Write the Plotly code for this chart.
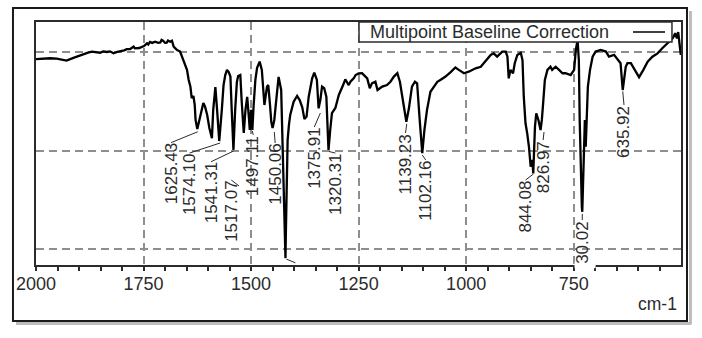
import plotly.graph_objects as go

# ---------------- data ----------------
wavenumber = [
    2000, 1984, 1967, 1952, 1940, 1929, 1913, 1902, 1890, 1879,
    1870, 1860, 1851, 1844, 1835, 1828, 1820, 1811, 1804, 1795,
    1789, 1781, 1773, 1770, 1760, 1754, 1749, 1742, 1739, 1735,
    1730, 1723, 1716, 1711, 1708, 1704, 1700, 1696, 1693, 1688,
    1684, 1680, 1672, 1665, 1661, 1657, 1653, 1649, 1645, 1641,
    1638, 1634, 1631, 1629, 1625, 1618, 1614, 1611, 1607, 1602,
    1597, 1591, 1588, 1583, 1579, 1576, 1574, 1568, 1564, 1560,
    1556, 1552, 1548, 1545, 1541, 1537, 1533, 1530, 1525, 1522,
    1517, 1513, 1509, 1505, 1503, 1500, 1497, 1494, 1490, 1486,
    1480, 1475, 1472, 1469, 1463, 1460, 1456, 1453, 1450, 1446,
    1441, 1436, 1430, 1427, 1424, 1422, 1420, 1419, 1417, 1415,
    1412, 1409, 1401, 1393, 1387, 1381, 1376, 1371, 1366, 1358,
    1353, 1347, 1343, 1339, 1335, 1330, 1325, 1320, 1316, 1312,
    1304, 1296, 1286, 1281, 1273, 1269, 1261, 1257, 1250, 1242,
    1230, 1224, 1219, 1211, 1206, 1195, 1184, 1176, 1168, 1160,
    1154, 1149, 1143, 1139, 1133, 1126, 1119, 1114, 1108, 1102,
    1097, 1091, 1083, 1075, 1067, 1060, 1048, 1036, 1025, 1017,
    1005, 994, 978, 966, 955, 943, 936, 928, 916, 908,
    904, 901, 897, 891, 887, 881, 873, 869, 866, 862,
    858, 854, 850, 846, 844, 840, 837, 832, 827, 824,
    821, 817, 811, 804, 800, 792, 784, 776, 769, 757,
    749, 745, 741, 738, 736, 734, 731, 730, 727, 724,
    722, 720, 717, 712, 706, 699, 687, 675, 668, 656,
    648, 641, 636, 633, 629, 625, 617, 608, 598, 588,
    578, 567, 555, 544, 536, 528, 520, 514, 510, 507,
    503, 501,
]
transmittance = [
    96.4, 96.6, 96.8, 96.6, 95.9, 95.6, 97.0, 98.0, 99.0, 99.7,
    100.2, 99.7, 99.6, 100.3, 100.0, 100.3, 99.3, 100.0, 100.2, 100.8,
    101.4, 101.5, 102.7, 101.8, 102.0, 102.7, 103.0, 104.4, 103.8, 105.1,
    104.6, 105.2, 104.6, 104.8, 106.1, 105.6, 104.6, 104.7, 105.8, 105.2,
    105.7, 102.7, 101.0, 100.2, 97.6, 95.9, 92.5, 90.9, 85.8, 82.4,
    76.6, 77.7, 73.1, 65.5, 60.9, 67.5, 71.4, 74.1, 72.2, 68.0,
    61.4, 56.2, 70.6, 82.2, 70.6, 57.9, 54.8, 70.6, 83.2, 88.3,
    90.9, 89.8, 87.5, 70.6, 50.3, 70.6, 84.8, 87.8, 88.3, 75.6,
    58.9, 70.6, 77.2, 66.5, 60.4, 70.6, 60.4, 73.1, 85.8, 91.9,
    95.1, 90.9, 83.2, 73.1, 82.4, 83.2, 73.1, 64.5, 61.4, 65.5,
    76.6, 87.3, 80.7, 56.9, 35.0, 9.6, -4.6, 9.6, 35.0, 55.3,
    62.9, 68.0, 74.8, 77.7, 75.6, 71.9, 66.0, 67.2, 77.3, 86.6,
    89.5, 85.8, 71.4, 75.6, 82.4, 81.6, 77.3, 50.3, 60.4, 69.0,
    71.6, 78.2, 83.2, 86.1, 83.2, 84.9, 86.8, 88.3, 89.1, 89.2,
    86.6, 81.6, 84.1, 84.9, 80.7, 82.4, 83.2, 84.9, 87.5, 89.2,
    84.9, 77.3, 68.9, 64.6, 71.4, 82.4, 84.9, 84.1, 65.5, 48.6,
    60.4, 70.6, 79.8, 82.4, 84.8, 85.8, 87.5, 89.8, 92.1, 90.9,
    89.2, 90.0, 91.7, 92.5, 95.1, 98.5, 99.3, 97.6, 100.2, 100.2,
    97.6, 86.6, 90.9, 89.2, 94.3, 98.5, 99.6, 95.9, 77.3, 63.8,
    58.7, 51.9, 41.8, 45.2, 38.4, 62.1, 68.9, 65.5, 60.4, 65.5,
    74.0, 85.8, 90.9, 92.5, 90.9, 92.5, 90.9, 89.2, 89.2, 88.3,
    90.9, 101.0, 106.1, 95.9, 65.5, 40.1, 21.5, 18.9, 48.7, 65.5,
    51.9, 65.5, 82.4, 90.9, 97.6, 100.2, 101.0, 100.2, 97.6, 98.5,
    95.9, 94.3, 80.7, 85.8, 92.5, 94.3, 94.3, 90.9, 87.2, 90.9,
    95.1, 97.6, 99.3, 101.9, 103.6, 105.2, 106.9, 109.5, 106.9, 110.1,
    101.0, 98.5,
]

# peak labels (text, label centre wavenumber, label top value, leader end)
peak_labels = ["1625.43", "1574.10", "1541.31", "1517.07", "1497.11", "1450.06",
               "1375.91", "1320.31", "1139.23", "1102.16", "844.08", "826.97",
               "30.02", "635.92"]
label_x = [1686, 1643, 1593, 1546, 1495, 1444, 1353, 1304, 1141, 1094, 862, 821, 730, 633]
label_top = [54.0, 48.7, 44.3, 35.0, 57.9, 53.8, 61.9, 48.7, 58.9, 45.2, 35.0, 55.3, 14.7, 73.1]
leader_x = [1624, 1572, 1541, 1528, 1497, 1446, 1339, 1319, 1138, 1102, 844, 819, 730, 636]
leader_y = [59.5, 53.8, 49.7, 32.0, 59.9, 59.4, 69.0, 49.5, 63.5, 47.7, 38.0, 59.4, 17.8, 80.0]

x_tick_values = [2000, 1750, 1500, 1250, 1000, 750]
series_name = "Multipoint Baseline Correction"

INK = "#2b2b2b"
GRID = "#8e8e8e"

fig = go.Figure()
fig.add_trace(go.Scatter(
    x=wavenumber, y=transmittance, mode="lines", name=series_name,
    line=dict(color="#000000", width=2.3), showlegend=False,
))

annotations = []
shapes = []

# peak labels and leader lines
for txt, lx, lt, ex, ey in zip(peak_labels, label_x, label_top, leader_x, leader_y):
    annotations.append(dict(
        x=lx, y=lt, xref="x", yref="y", text=txt, textangle=-90,
        showarrow=False, xanchor="center", yanchor="top",
        font=dict(size=17, color=INK), borderpad=0,
    ))
    shapes.append(dict(type="line", xref="x", yref="y", x0=lx, y0=lt, x1=ex, y1=ey,
                       line=dict(color=INK, width=1), layer="above"))

# leader of the deepest (unlabelled) band
shapes.append(dict(type="line", xref="x", yref="y", x0=1418, y0=-5.1, x1=1397, y1=-7.0,
                   line=dict(color=INK, width=1), layer="above"))

# white patch where the clipped label crosses the axis
shapes.append(dict(type="rect", xref="x", yref="paper", x0=748, x1=699, y0=-0.013, y1=0.011,
                   fillcolor="white", line=dict(width=0), layer="above"))

# legend box (text then line sample)
shapes.append(dict(type="rect", xref="paper", yref="paper", x0=0.5008, x1=0.986, y0=0.9177, y1=1.0,
                   fillcolor="white", line=dict(color=INK, width=1.5), layer="above"))
shapes.append(dict(type="line", xref="paper", yref="paper", x0=0.9256, x1=0.9752, y0=0.9588, y1=0.9588,
                   line=dict(color="#000000", width=1.5), layer="above"))
annotations.append(dict(x=0.5155, y=0.9588, xref="paper", yref="paper", text=series_name,
                        showarrow=False, xanchor="left", yanchor="middle",
                        font=dict(size=18, color=INK)))

# axis unit
annotations.append(dict(x=0.997, y=-0.16, xref="paper", yref="paper", text="cm-1",
                        showarrow=False, xanchor="right", yanchor="middle",
                        font=dict(size=17.5, color=INK)))

# outer picture frame with shadow
shapes.append(dict(type="line", xref="paper", yref="paper", x0=1.0147, x1=1.0147, y0=1.0453, y1=-0.2428,
                   line=dict(color="#bdbdbd", width=3), layer="below"))
shapes.append(dict(type="line", xref="paper", yref="paper", x0=-0.031, x1=1.016, y0=-0.2408, y1=-0.2408,
                   line=dict(color="#bdbdbd", width=3), layer="below"))
shapes.append(dict(type="rect", xref="paper", yref="paper", x0=-0.0357, x1=1.0093, y0=-0.2305, y1=1.0576,
                   line=dict(color="#1a1a1a", width=2), layer="below"))

fig.update_layout(
    width=702, height=338,
    margin=dict(l=36, r=21, t=22, b=73),
    paper_bgcolor="white", plot_bgcolor="white",
    showlegend=False,
    font=dict(family="Liberation Sans, Arial, sans-serif", size=18, color=INK),
    annotations=annotations, shapes=shapes,
)
fig.update_xaxes(
    range=[2000, 500.5], tickmode="array", tickvals=x_tick_values,
    ticks="outside", ticklen=4, tickwidth=1.5, tickcolor=INK,
    tickfont=dict(size=18, color=INK), ticklabelstandoff=-3,
    showline=True, linecolor=INK, linewidth=2, mirror=True,
    showgrid=True, gridcolor=GRID, griddash="8px,5px", gridwidth=1.5,
    zeroline=False,
    minor=dict(tickmode="linear", tick0=0, dtick=50, ticks="outside", ticklen=4,
               tickwidth=1.5, tickcolor=INK, showgrid=False),
)
fig.update_yaxes(
    range=[-8.1, 115.2], tickmode="array", tickvals=[0, 50, 100],
    showticklabels=False, ticks="",
    showline=True, linecolor=INK, linewidth=2, mirror=True,
    showgrid=True, gridcolor=GRID, griddash="8px,5px", gridwidth=1.5,
    zeroline=False,
)

fig.write_html("out.html")
